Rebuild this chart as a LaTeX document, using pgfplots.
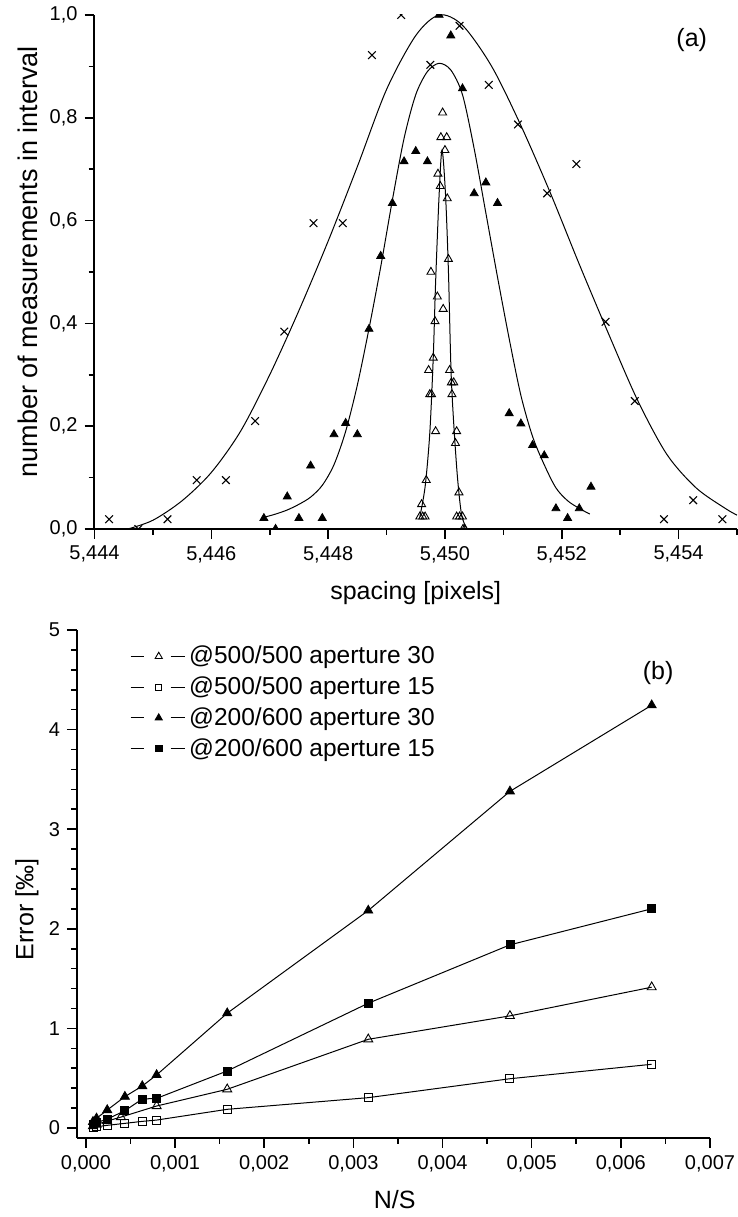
\documentclass[border=0pt]{standalone}
\usepackage{fontspec}
\setmainfont{Liberation Sans}
\usepackage{pgfplots}
\pgfplotsset{compat=1.18}
\pgfplotsset{
  mystyle/.style={
    scale only axis,
    axis x line=bottom, axis y line=left,
    axis line style={-, line width=1pt},
    tick align=outside,
    major tick length=5pt, minor tick length=3pt,
    every tick/.style={black, line width=0.8pt},
    tick label style={font=\fontsize{10}{12}\selectfont},
    label style={font=\fontsize{12.5}{15}\selectfont},
    /pgf/number format/assume math mode=true,
    /pgf/number format/use comma,
    scaled ticks=false,
  },
  crv/.style={black, line width=0.5pt, smooth, no markers},
}
\begin{document}
\begin{tikzpicture}
\useasboundingbox (0,0) rectangle (369pt,608.5pt);
% ---------------- (a) ----------------
\begin{axis}[mystyle, at={(47.25pt,344pt)}, anchor=south west,
  width=321.25pt, height=257pt,
  xmin=5.444, xmax=5.455, ymin=0, ymax=1,
  clip marker paths=true,
  xtick={5.444,5.446,5.448,5.450,5.452,5.454},
  minor xtick={5.445,5.447,5.449,5.451,5.453,5.455},
  ytick={0,0.2,0.4,0.6,0.8,1.0},
  minor ytick={0.1,0.3,0.5,0.7,0.9},
  xticklabel style={/pgf/number format/.cd, fixed, fixed zerofill, precision=3},
  yticklabel style={/pgf/number format/.cd, fixed, fixed zerofill, precision=1},
  xlabel={spacing [pixels]},
  ylabel={number of measurements in interval},
  xlabel style={at={(axis description cs:0.5,-0.1245)}, anchor=center},
  ylabel style={at={(axis description cs:-0.104,0.52)}, anchor=center, font=\fontsize{13.5}{16}\selectfont},
]
% wide fit
\addplot[crv] coordinates {
(5.44457,0.0) (5.4450,0.017) (5.4455,0.055) (5.4460,0.11) (5.4465,0.19)
(5.4470,0.30) (5.4475,0.425) (5.4480,0.56) (5.4485,0.705) (5.4490,0.855)
(5.4495,0.96) (5.4499,1.0) (5.4503,0.98) (5.4508,0.90) (5.4513,0.785)
(5.4518,0.655) (5.4523,0.515) (5.4528,0.38) (5.4533,0.25) (5.4538,0.145)
(5.4543,0.08) (5.4548,0.04) (5.455,0.027)};
% medium fit
\addplot[crv] coordinates {
(5.44691,0.023) (5.4471,0.029) (5.4473,0.037) (5.4475,0.048) (5.4477,0.062)
(5.4479,0.085) (5.4481,0.125) (5.4483,0.19) (5.4485,0.28) (5.4487,0.39)
(5.4489,0.51) (5.4491,0.64) (5.4493,0.76) (5.4495,0.845) (5.4497,0.89)
(5.4499,0.906) (5.4501,0.893) (5.4503,0.845) (5.4505,0.74) (5.4507,0.615)
(5.4509,0.49) (5.4511,0.37) (5.4513,0.26) (5.4515,0.18) (5.4517,0.125)
(5.4519,0.08) (5.4521,0.055) (5.4523,0.04) (5.45248,0.029)};
% narrow fit
\addplot[crv] coordinates {
(5.44957,0.024) (5.44966,0.082) (5.44974,0.186) (5.44980,0.335) (5.44984,0.48)
(5.44990,0.65) (5.44995,0.737) (5.45001,0.65) (5.45006,0.5) (5.45011,0.29)
(5.45020,0.121) (5.45028,0.031) (5.45036,0.004)};
% crosses
\addplot[only marks, mark=x, mark size=2.7pt, mark options={black, line width=0.55pt}] coordinates {
(5.44425,0.019) (5.44475,0.0) (5.44525,0.019) (5.44575,0.095) (5.44625,0.095)
(5.44675,0.21) (5.44725,0.384) (5.44775,0.595) (5.44825,0.595) (5.44875,0.922)
(5.44925,1.0) (5.44975,0.903) (5.45025,0.979) (5.45075,0.864) (5.45125,0.787)
(5.45175,0.653) (5.45225,0.71) (5.45275,0.403) (5.45325,0.249) (5.45375,0.019)
(5.45425,0.056) (5.45475,0.019)};
% filled triangles
\addplot[only marks, mark=triangle*, mark size=2.3pt, mark options={black, fill=black, line width=0.4pt}] coordinates {
(5.4469,0.021) (5.4471,0.0) (5.4473,0.063) (5.4475,0.021) (5.4477,0.123)
(5.4479,0.021) (5.4481,0.184) (5.4483,0.206) (5.4485,0.184) (5.4487,0.389)
(5.4489,0.531) (5.4491,0.634) (5.4493,0.715) (5.4495,0.735) (5.4497,0.715)
(5.4499,1.0) (5.4501,0.96) (5.4503,0.857) (5.4505,0.653) (5.4507,0.674)
(5.4509,0.634) (5.4511,0.225) (5.4513,0.205) (5.4515,0.163) (5.4517,0.143)
(5.4519,0.040) (5.4521,0.021) (5.4523,0.040) (5.4525,0.082)};
% open triangles
\addplot[only marks, mark=triangle, mark size=2.3pt, mark options={black, line width=0.45pt}] coordinates {
(5.44957,0.024) (5.44962,0.024) (5.44966,0.024) (5.44960,0.048) (5.44968,0.095)
(5.44972,0.309) (5.44974,0.262) (5.44977,0.262) (5.44976,0.5) (5.44980,0.333)
(5.44983,0.404) (5.44984,0.19) (5.44987,0.452) (5.44988,0.691) (5.44992,0.667)
(5.44993,0.762) (5.44996,0.81) (5.44997,0.428) (5.45000,0.737) (5.45003,0.762)
(5.45004,0.643) (5.45006,0.525) (5.45008,0.309) (5.45011,0.285) (5.45015,0.285)
(5.45012,0.262) (5.45018,0.167) (5.45020,0.19) (5.45024,0.071) (5.45020,0.024)
(5.45025,0.024) (5.45030,0.024) (5.45031,0.0) (5.45034,0.0)};
\node[font=\fontsize{12.5}{15}\selectfont] at (axis description cs:0.9295,0.951) {(a)};
\end{axis}
% ---------------- (b) ----------------
\begin{axis}[mystyle, at={(38.5pt,39.5pt)}, anchor=south west,
  width=316.5pt, height=254pt,
  xmin=-0.0001, xmax=0.007, ymin=-0.1, ymax=5,
  xtick={0,0.001,0.002,0.003,0.004,0.005,0.006,0.007},
  minor xtick={0.0005,0.0015,0.0025,0.0035,0.0045,0.0055,0.0065},
  ytick={0,1,2,3,4,5},
  minor ytick={0.2,0.4,0.6,0.8,1.2,1.4,1.6,1.8,2.2,2.4,2.6,2.8,3.2,3.4,3.6,3.8,4.2,4.4,4.6,4.8},
  xticklabel style={/pgf/number format/.cd, fixed, fixed zerofill, precision=3},
  yticklabel style={/pgf/number format/.cd, fixed, precision=0},
  xlabel={N/S},
  ylabel={Error [‰]},
  xlabel style={at={(axis description cs:0.502,-0.122)}, anchor=center},
  ylabel style={at={(axis description cs:-0.079,0.45)}, anchor=center},
  legend cell align=left,
  legend image code/.code={
    \draw[#1] (0pt,0pt) -- (6.5pt,0pt);
    \draw[#1] (20pt,0pt) -- (27pt,0pt);
    \draw[#1, every mark/.append style={scale=0.8}] plot coordinates {(14pt,0pt)};
  },
  legend style={at={(axis description cs:0.074,0.985)}, anchor=north west,
    draw=none, fill=none, font=\fontsize{12.25}{14}\selectfont, row sep=1pt},
  every axis plot/.append style={black, line width=0.5pt},
]
\addplot[mark=triangle, mark size=2.6pt, mark options={solid, line width=0.45pt, fill=white}] coordinates {
(0.0000794,0.02) (0.000119,0.035) (0.000238,0.07) (0.000393,0.11) (0.000793,0.221)
(0.001585,0.389) (0.003167,0.891) (0.004756,1.126) (0.006346,1.414)};
\addlegendentry{@500/500 aperture 30}
\addplot[mark=square, mark size=2pt, mark options={solid, line width=0.45pt, fill=white}] coordinates {
(0.0000794,0.01) (0.000119,0.013) (0.000239,0.027) (0.000437,0.047) (0.000632,0.067)
(0.000793,0.080) (0.001585,0.188) (0.003167,0.305) (0.004756,0.495) (0.006346,0.64)};
\addlegendentry{@500/500 aperture 15}
\addplot[mark=triangle*, mark size=2.6pt, mark options={solid, line width=0.4pt, fill=black}] coordinates {
(0.0000794,0.063) (0.000119,0.097) (0.000239,0.181) (0.000437,0.315) (0.000632,0.422)
(0.000793,0.533) (0.001585,1.153) (0.003167,2.184) (0.004756,3.38) (0.006346,4.245)};
\addlegendentry{@200/600 aperture 30}
\addplot[mark=square*, mark size=2pt, mark options={solid, line width=0.4pt, fill=black}] coordinates {
(0.0000794,0.035) (0.000119,0.053) (0.000239,0.09) (0.000437,0.174) (0.000632,0.291)
(0.000793,0.298) (0.001585,0.573) (0.003167,1.253) (0.004756,1.839) (0.006346,2.201)};
\addlegendentry{@200/600 aperture 15}
\node[font=\fontsize{12.5}{15}\selectfont] at (axis description cs:0.918,0.915) {(b)};
\end{axis}
\end{tikzpicture}
\end{document}
